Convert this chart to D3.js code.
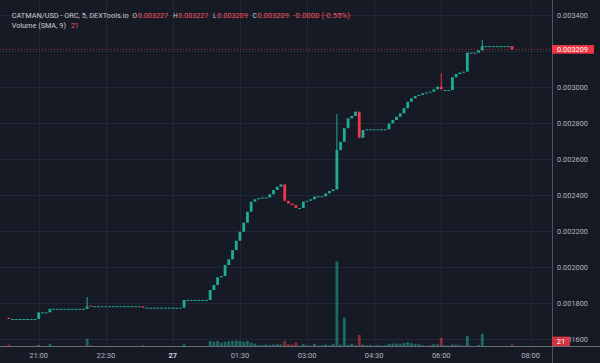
<!DOCTYPE html>
<html>
<head>
<meta charset="utf-8">
<script src="https://cdn.jsdelivr.net/npm/d3@7"></script>
<style>
body { margin: 0; background: #161a25; }
svg { display: block; font-family: Roboto, "Noto Sans", sans-serif; }
</style>
</head>
<body>
<div id="chart"></div>
<script>
// prices are in millionths of a USD, one candle every 5 minutes from 20:20
var startTime = "2023-08-26T20:20"
var stepMinutes = 5

var opens = [
  1718,1711,1711,1711,1711,1711,1711,1711,1711,1748,
  1748,1748,1768,1768,1768,1768,1768,1768,1768,1768,
  1768,1768,1786,1782,1782,1782,1782,1782,1782,1782,
  1782,1782,1782,1782,1782,1782,1782,1774,1774,1774,
  1774,1774,1774,1774,1774,1774,1774,1774,1817,1817,
  1817,1817,1817,1817,1817,1872,1900,1943,1950,2011,
  2043,2094,2146,2196,2246,2307,2363,2376,2382,2386,
  2386,2404,2428,2446,2459,2368,2353,2344,2328,2328,
  2363,2368,2376,2391,2393,2393,2409,2422,2431,2650,
  2696,2771,2826,2839,2863,2718,2761,2765,2765,2765,
  2765,2765,2765,2798,2817,2835,2854,2882,2918,2937,
  2950,2956,2965,2969,2974,2987,3002,2983,2983,2983,
  3054,3072,3080,3085,3191,3191,3191,3204,3227,3227,
  3227,3227,3227,3227,3227,3227
]
var closes = [
  1711,1711,1711,1711,1711,1711,1711,1711,1748,1748,
  1748,1768,1768,1768,1768,1768,1768,1768,1768,1768,
  1768,1780,1782,1782,1782,1782,1782,1782,1782,1782,
  1782,1782,1782,1782,1782,1782,1774,1774,1774,1774,
  1774,1774,1774,1774,1774,1774,1774,1817,1817,1817,
  1817,1817,1817,1817,1872,1900,1943,1950,2011,2043,
  2094,2146,2196,2246,2307,2363,2376,2382,2386,2386,
  2404,2428,2446,2459,2368,2353,2344,2328,2328,2363,
  2368,2376,2391,2393,2393,2409,2422,2431,2650,2696,
  2771,2826,2839,2863,2718,2761,2765,2765,2765,2765,
  2765,2765,2798,2817,2835,2854,2882,2918,2937,2950,
  2956,2965,2969,2974,2987,3002,2987,2983,2983,3054,
  3072,3080,3085,3191,3191,3191,3204,3227,3227,3227,
  3227,3227,3227,3227,3227,3209
]
// [candle index, high] for the candles with an upper wick
var wickHighs = [[21, 1833], [88, 2850], [116, 3076], [127, 3261]]

var volumes = [
  20,0,0,0,0,0,0,0,15,0,
  0,30,0,0,0,0,0,0,0,0,
  0,100,10,0,0,0,0,0,0,0,
  0,0,0,0,0,0,12,0,0,0,
  0,0,0,0,0,0,0,25,0,0,
  0,0,0,0,70,60,70,47,60,65,
  70,75,70,60,70,47,35,15,10,20,
  15,20,25,20,70,25,20,50,5,25,
  10,5,28,5,10,20,10,28,1180,20,
  395,15,30,10,155,20,10,15,5,15,
  5,10,30,35,35,30,40,55,40,30,
  25,10,5,10,25,25,112,10,5,20,
  20,10,5,140,5,0,15,170,0,0,
  0,0,0,0,0,21
]

var priceTicks = [1600, 1800, 2000, 2200, 2400, 2600, 2800, 3000, 3200, 3400]
var timeTicks = ["2023-08-26T21:00", "2023-08-26T22:30", "2023-08-27T00:00", "2023-08-27T01:30",
                 "2023-08-27T03:00", "2023-08-27T04:30", "2023-08-27T06:00", "2023-08-27T08:00"]
var timeLabels = ["21:00", "22:30", "27", "01:30", "03:00", "04:30", "06:00", "08:00"]

var lastPrice = closes[closes.length - 1]
var lastVolume = volumes[volumes.length - 1]

width = 600
height = 363
axisX = 552
axisY = 346

upColor = "#22ab94"
downColor = "#f23645"
textColor = "#b2b5be"
gridColor = "#232735"

var x = d3.scaleTime()
    .domain([new Date("2023-08-26T21:00"), new Date("2023-08-27T08:00")])
    .range([38.7, 530.7])

var y = d3.scaleLinear().domain([1600, 3400]).range([339, 15])
var yv = d3.scaleLinear().domain([0, 1200]).range([346, 260])

var t0 = new Date(startTime).getTime()
var candles = closes.map(function(c, i) {
    return {t: new Date(t0 + i * stepMinutes * 60000), o: opens[i], c: c,
            h: Math.max(opens[i], c), l: Math.min(opens[i], c), v: volumes[i]}
})
wickHighs.forEach(function(w) { candles[w[0]].h = w[1] })

var svg = d3.select("#chart").append("svg")
    .attr("width", width)
    .attr("height", height)

svg.append("rect").attr("width", width).attr("height", height).attr("fill", "#161a25")

svg.append("clipPath").attr("id", "pane")
    .append("rect").attr("x", 0).attr("y", 0).attr("width", axisX).attr("height", axisY)

// grid
svg.selectAll(".hgrid").data(priceTicks)
    .enter().append("line")
    .attr("class", "hgrid")
    .attr("x1", 0).attr("x2", axisX)
    .attr("y1", function(d) { return Math.round(y(d)) + 0.5 })
    .attr("y2", function(d) { return Math.round(y(d)) + 0.5 })
    .attr("stroke", gridColor)

svg.selectAll(".vgrid").data(timeTicks)
    .enter().append("line")
    .attr("class", "vgrid")
    .attr("x1", function(d) { return Math.round(x(new Date(d))) + 0.5 })
    .attr("x2", function(d) { return Math.round(x(new Date(d))) + 0.5 })
    .attr("y1", 0).attr("y2", axisY)
    .attr("stroke", gridColor)

var pane = svg.append("g").attr("clip-path", "url(#pane)")

var bw = 2.8

// volume
pane.selectAll(".vol").data(candles.filter(function(d) { return d.v > 0 }))
    .enter().append("rect")
    .attr("class", "vol")
    .attr("x", function(d) { return x(d.t) - bw / 2 })
    .attr("width", bw)
    .attr("y", function(d) { return yv(d.v) })
    .attr("height", function(d) { return Math.max(1, yv(0) - yv(d.v)) })
    .attr("fill", function(d) { return d.c >= d.o ? upColor : downColor })
    .attr("opacity", 0.55)

// wicks
pane.selectAll(".wick").data(candles.filter(function(d) { return d.h > Math.max(d.o, d.c) }))
    .enter().append("line")
    .attr("class", "wick")
    .attr("x1", function(d) { return x(d.t) }).attr("x2", function(d) { return x(d.t) })
    .attr("y1", function(d) { return y(d.h) }).attr("y2", function(d) { return y(d.l) })
    .attr("stroke", function(d) { return d.c >= d.o ? upColor : downColor })
    .attr("stroke-width", 1)

// bodies
pane.selectAll(".body").data(candles)
    .enter().append("rect")
    .attr("class", "body")
    .attr("x", function(d) { return x(d.t) - bw / 2 })
    .attr("width", bw)
    .attr("y", function(d) { return y(Math.max(d.o, d.c)) })
    .attr("height", function(d) { return Math.max(1, Math.abs(y(d.o) - y(d.c))) })
    .attr("fill", function(d) { return d.c >= d.o ? upColor : downColor })

// last price line
svg.append("line")
    .attr("x1", 0).attr("x2", axisX)
    .attr("y1", y(lastPrice)).attr("y2", y(lastPrice))
    .attr("stroke", downColor)
    .attr("stroke-opacity", 0.7)
    .attr("stroke-dasharray", "1,2")

// axis lines
svg.append("line").attr("x1", axisX + 0.5).attr("x2", axisX + 0.5).attr("y1", 0).attr("y2", height)
    .attr("stroke", "#50535e")
svg.append("line").attr("x1", 0).attr("x2", width).attr("y1", axisY + 0.5).attr("y2", axisY + 0.5)
    .attr("stroke", "#6a6d78").attr("stroke-width", 1.2)

// price labels (the one under the last price tag is hidden, as in the original)
var py = y(lastPrice)
svg.selectAll(".plabel").data(priceTicks.filter(function(d) { return Math.abs(y(d) - py) > 8 }))
    .enter().append("text")
    .attr("class", "plabel")
    .attr("x", 557)
    .attr("y", function(d) { return y(d) + 2.5 })
    .attr("textLength", 31)
    .attr("lengthAdjust", "spacingAndGlyphs")
    .attr("fill", textColor)
    .style("font-size", "7px")
    .text(function(d) { return (d / 1e6).toFixed(6) })

// time labels
svg.selectAll(".tlabel").data(timeTicks)
    .enter().append("text")
    .attr("class", "tlabel")
    .attr("x", function(d) { return x(new Date(d)) })
    .attr("y", 358)
    .attr("text-anchor", "middle")
    .attr("fill", function(d, i) { return timeLabels[i] == "27" ? "#d1d4dc" : textColor })
    .style("font-size", "7.5px")
    .style("font-weight", function(d, i) { return timeLabels[i] == "27" ? "bold" : "normal" })
    .text(function(d, i) { return timeLabels[i] })

// last price tag
svg.append("rect").attr("x", axisX).attr("y", py - 4.3).attr("width", 42).attr("height", 8.6)
    .attr("fill", downColor)
svg.append("text").attr("x", 557).attr("y", py + 2.5)
    .attr("textLength", 31).attr("lengthAdjust", "spacingAndGlyphs")
    .attr("fill", "#ffffff").style("font-size", "7px")
    .text((lastPrice / 1e6).toFixed(6))

// volume tag (kept inside the pane)
var vy = Math.min(yv(lastVolume), axisY - 4.7)
svg.append("rect").attr("x", axisX).attr("y", vy - 4.7).attr("width", 18).attr("height", 9.4)
    .attr("fill", downColor).attr("opacity", 0.85)
svg.append("text").attr("x", axisX + 9).attr("y", vy + 2.6)
    .attr("text-anchor", "middle").attr("fill", "#ffffff").style("font-size", "7.5px")
    .text(lastVolume)

// legend
function legend(str, px, py, len, color, size) {
    var t = svg.append("text").attr("x", px).attr("y", py)
        .attr("fill", color).style("font-size", (size || 8) + "px").text(str)
    if (len) t.attr("textLength", len).attr("lengthAdjust", "spacingAndGlyphs")
}
var red = "#f7525f"
var light = "#c9ccd4"
legend("CATMAN/USD - ORC, 5, DEXTools.io", 11.7, 18, 117, light, 7.3)
legend("O", 132.5, 18, 4.6, light)
legend((opens[opens.length - 1] / 1e6).toFixed(6), 138, 18, 30, red)
legend("H", 173.3, 18, 4.3, light)
legend("0.003227", 178.3, 18, 30, red)
legend("L", 213, 18, 3.6, light)
legend("0.003209", 217.3, 18, 30.5, red)
legend("C", 252.5, 18, 4.4, light)
legend((lastPrice / 1e6).toFixed(6), 257.5, 18, 31.5, red)
legend("-0.0000 (-0.55%)", 293.3, 18, 56.7, red)
legend("Volume (SMA, 9)", 11.7, 28, 54.3, light)
legend("21", 71, 28, 7.7, red)
</script>
</body>
</html>
